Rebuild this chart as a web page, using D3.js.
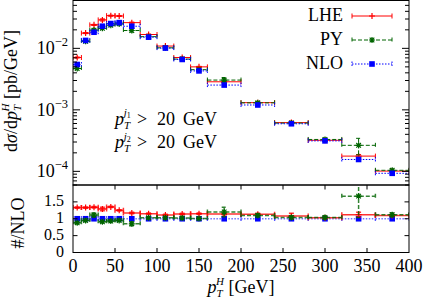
<!DOCTYPE html>
<html><head><meta charset="utf-8">
<script src="https://cdn.jsdelivr.net/npm/d3@7"></script>
<style>
body{margin:0;background:#fff}
svg{display:block}
</style>
</head><body>
<svg id="c" width="427" height="299" font-family="'Liberation Serif', 'DejaVu Serif', 'Times New Roman', serif"></svg>
<script>
// ---- data ----
const binLo = [0,10,20,30,40,50,60,80,100,120,140,160,200,240,280,320,360];
const binHi = [10,20,30,40,50,60,80,100,120,140,160,200,240,280,320,360,400];
const seriesNames = ["LHE","PY","NLO"];
const lhe = [0.0071,0.0177,0.0241,0.0290,0.0340,0.0336,0.0262,0.0168,0.0109,0.0071,0.0050,0.00286,0.00131,6.2e-4,3.2e-4,1.77e-4,1.01e-4];
const py  = [0.0047,0.0130,0.0198,0.0212,0.0238,0.0250,0.0195,0.0155,0.0102,0.0067,0.0045,0.00305,0.00130,6.1e-4,3.3e-4,2.65e-4,1.04e-4];
const nlo = [0.00546,0.01345,0.0183,0.0229,0.0253,0.0262,0.0229,0.0152,0.0101,0.0066,0.0043,0.00253,0.00120,5.94e-4,3.13e-4,1.56e-4,9.3e-5];
// relative uncertainties (top panel)
const lheErr = [0.02,0.02,0.02,0.04,0.02,0.02,0.02,0.02,0.02,0.02,0.02,0.03,0.03,0.06,0.03,0.06,0.03];
const pyErr  = [0.03,0.03,0.05,0.03,0.03,0.03,0.05,0.03,0.03,0.03,0.03,0.10,0.05,0.05,0.05,0.30,0.05];
const nloErr = [0.01,0.01,0.01,0.01,0.01,0.01,0.01,0.01,0.01,0.01,0.01,0.02,0.02,0.02,0.02,0.03,0.03];
// ratio panel (#/NLO)
const rLhe = [1.33,1.33,1.34,1.29,1.35,1.25,1.17,1.15,1.11,1.14,1.15,1.14,1.13,1.08,1.03,1.12,1.10];
const rPy  = [0.88,0.95,1.11,0.91,0.93,0.95,0.85,1.03,1.03,1.02,1.01,1.20,1.10,1.04,1.04,1.67,1.12];
const rNlo = [1,1,1,1,1,1,1,1,1,1,1,1,1,1,1,1,1];
const rLheErr = [0.02,0.02,0.02,0.05,0.02,0.02,0.02,0.02,0.02,0.02,0.02,0.03,0.03,0.08,0.03,0.07,0.03];
const rPyErr  = [0.03,0.03,0.06,0.03,0.03,0.03,0.06,0.03,0.03,0.03,0.03,0.14,0.05,0.05,0.05,0.63,0.06];
const rNloErr = [0,0,0,0,0,0,0,0,0,0,0,0,0,0,0,0,0];
const xTicks = [0,50,100,150,200,250,300,350,400];
const yMajor = [1e-2,1e-3,1e-4];
const yMajorExp = ["−2","−3","−4"];
const rTicks = [0,0.5,1,1.5];
const rTickLabels = ["0","0.5","1","1.5"];
const cutLines = ["j1","j2"];

// ---- layout ----
const L=73, R=409, T1=0.5, B1=185, T2=185, B2=252.5;
const svg = d3.select("#c");
const x = d3.scaleLinear().domain([0,400]).range([L,R]);
const y = d3.scaleLog().domain([6e-5,0.06]).range([B1,T1]);
const yr = d3.scaleLinear().domain([0,2]).range([B2,T2]);

const styles = {
  LHE:{color:"#ff0000", dash:null, marker:"plus"},
  PY:{color:"#006400", dash:"4,2", marker:"star"},
  NLO:{color:"#0000ff", dash:"1.5,1.5", marker:"square"}
};

const defs = svg.append("defs");
defs.append("clipPath").attr("id","cp1").append("rect").attr("x",L).attr("y",T1).attr("width",R-L).attr("height",B1-T1);
defs.append("clipPath").attr("id","cp2").append("rect").attr("x",L).attr("y",T2).attr("width",R-L).attr("height",B2-T2);

function drawMarker(g, type, cx, cy, color){
  if(type==="plus"){
    g.append("path").attr("d",`M${cx-3},${cy}H${cx+3}M${cx},${cy-3}V${cy+3}`).attr("stroke",color).attr("stroke-width",1.2).attr("fill","none");
  } else if(type==="star"){
    g.append("path").attr("d",`M${cx-3},${cy}H${cx+3}M${cx},${cy-3}V${cy+3}M${cx-2.3},${cy-2.3}L${cx+2.3},${cy+2.3}M${cx-2.3},${cy+2.3}L${cx+2.3},${cy-2.3}`).attr("stroke",color).attr("stroke-width",1.2).attr("fill","none");
  } else {
    g.append("rect").attr("x",cx-2.8).attr("y",cy-2.8).attr("width",5.6).attr("height",5.6).attr("fill",color);
  }
}

function drawSeries(g, name, vals, errs, ys, relative, sw, op){
  const st = styles[name];
  vals.forEach((v,i)=>{
    const x0=x(binLo[i]), x1=x(binHi[i]), xm=x((binLo[i]+binHi[i])/2);
    const yy=ys(v);
    const e = relative ? v*errs[i] : errs[i];
    const lineAttrs = s=>s.attr("stroke",st.color).attr("stroke-width",sw).attr("fill","none").attr("opacity",op).attr("stroke-dasharray",st.dash);
    g.append("path").attr("d",`M${x0},${yy}H${x1}M${x0},${yy-2.5}V${yy+2.5}M${x1},${yy-2.5}V${yy+2.5}`).call(lineAttrs);
    if(e>0){
      const ya=ys(v+e), yb=ys(v-e);
      g.append("path").attr("d",`M${xm},${ya}V${yb}M${xm-2.5},${ya}H${xm+2.5}M${xm-2.5},${yb}H${xm+2.5}`).call(lineAttrs);
    }
    drawMarker(g, st.marker, xm, yy, st.color);
  });
}

// top panel
const g1 = svg.append("g").attr("clip-path","url(#cp1)");
drawSeries(g1,"LHE",lhe,lheErr,y,true,1,1);
drawSeries(g1,"PY",py,pyErr,y,true,1,1);
drawSeries(g1,"NLO",nlo,nloErr,y,true,1,1);

// ratio panel
const g2 = svg.append("g").attr("clip-path","url(#cp2)");
drawSeries(g2,"NLO",rNlo,rNloErr,yr,false,1.3,0.55);
drawSeries(g2,"LHE",rLhe,rLheErr,yr,false,1.5,0.8);
drawSeries(g2,"PY",rPy,rPyErr,yr,false,1.5,0.8);

// frames
const ax = svg.append("g").attr("stroke","#000").attr("fill","none").attr("stroke-width",1);
ax.append("rect").attr("x",L).attr("y",T1).attr("width",R-L).attr("height",B1-T1);
ax.append("rect").attr("x",L).attr("y",T2).attr("width",R-L).attr("height",B2-T2);

// log ticks on top panel
const [dmin,dmax]=y.domain();
for(let e=-5;e<=-1;e++){
  for(let k=1;k<10;k++){
    const v=k*Math.pow(10,e);
    if(v<dmin||v>dmax) continue;
    const len = k===1?7:4;
    const yy=y(v);
    ax.append("path").attr("d",`M${L},${yy}h${len}M${R},${yy}h${-len}`);
  }
}
// x ticks in ratio panel (bottom and top)
xTicks.filter(t=>t>0&&t<400).forEach(t=>{
  const xx=x(t);
  ax.append("path").attr("d",`M${xx},${B2}v-4.5M${xx},${T2}v4.5`);
});
// ratio y ticks
rTicks.filter(t=>t>0).forEach(t=>{
  const yy=yr(t);
  ax.append("path").attr("d",`M${L},${yy}h4.5M${R},${yy}h-4.5`);
});

// tick labels
const fs=18;
yMajor.forEach((v,i)=>{
  const t=svg.append("text").attr("x",68).attr("y",y(v)+6).attr("text-anchor","end").attr("font-size",fs);
  t.append("tspan").text("10");
  t.append("tspan").attr("dy",-8).attr("font-size",12.5).text(yMajorExp[i]);
});
rTicks.forEach((v,i)=>{
  svg.append("text").attr("x",64).attr("y",yr(v)+4).attr("text-anchor","end").attr("font-size",16).text(rTickLabels[i]);
});
xTicks.forEach(t=>{
  svg.append("text").attr("x",x(t)).attr("y",272).attr("text-anchor","middle").attr("font-size",fs).text(t);
});

// x axis title
{
  const t=svg.append("text").attr("x",(L+R)/2).attr("y",293).attr("text-anchor","middle").attr("font-size",fs);
  t.append("tspan").attr("font-style","italic").text("p");
  t.append("tspan").attr("font-style","italic").attr("font-size",11).attr("dy",4).text("T");
  t.append("tspan").attr("font-style","italic").attr("font-size",11).attr("dx",-6.5).attr("dy",-12).text("H");
  t.append("tspan").attr("dy",8).text(" [GeV]");
}
// y axis title (top)
{
  const t=svg.append("text").attr("transform",`translate(17,91) rotate(-90)`).attr("text-anchor","middle").attr("font-size",fs);
  t.append("tspan").text("d");
  t.append("tspan").attr("font-style","italic").text("σ");
  t.append("tspan").text("/d");
  t.append("tspan").attr("font-style","italic").text("p");
  t.append("tspan").attr("font-style","italic").attr("font-size",11).attr("dy",4).text("T");
  t.append("tspan").attr("font-style","italic").attr("font-size",11).attr("dx",-6.5).attr("dy",-12).text("H");
  t.append("tspan").attr("dy",8).text(" [pb/GeV]");
}
// y axis title (ratio)
svg.append("text").attr("transform",`translate(24,223) rotate(-90)`).attr("text-anchor","middle").attr("font-size",fs).text("#/NLO");

// cuts annotation
cutLines.forEach((c,i)=>{
  const by = 124.5 + i*23.5;
  const t=svg.append("text").attr("x",115).attr("y",by).attr("font-size",fs);
  t.append("tspan").attr("font-style","italic").text("p");
  t.append("tspan").attr("font-style","italic").attr("font-size",11).attr("dy",4).text("T");
  t.append("tspan").attr("font-style","italic").attr("font-size",11).attr("dx",-6.5).attr("dy",-12.5).text(c[0]);
  t.append("tspan").attr("font-size",8).attr("dy",2).text(c[1]);
  t.append("tspan").attr("x",137).attr("y",by).text(">");
  t.append("tspan").attr("x",157).attr("y",by).text("20");
  t.append("tspan").attr("x",183).attr("y",by).text("GeV");
});

// legend
seriesNames.forEach((n,i)=>{
  const st=styles[n];
  const by = 20.5 + i*24;
  const ly = by-4.5;
  svg.append("text").attr("x",343).attr("y",by).attr("text-anchor","end").attr("font-size",fs).text(n);
  const lg=svg.append("g");
  lg.append("path").attr("d",`M352,${ly}H392M352,${ly-2.5}V${ly+2.5}M392,${ly-2.5}V${ly+2.5}`)
    .attr("stroke",st.color).attr("stroke-width",1).attr("fill","none").attr("stroke-dasharray",st.dash);
  drawMarker(lg, st.marker, 372, ly, st.color);
});
</script>
</body></html>
